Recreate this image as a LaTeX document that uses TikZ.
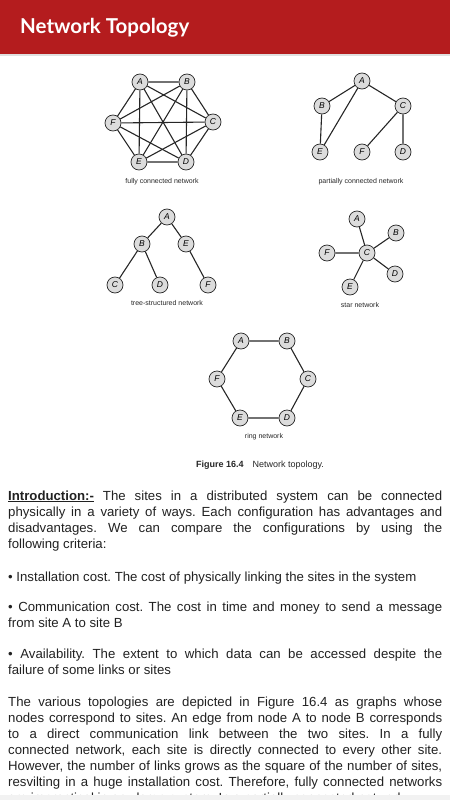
\documentclass[tikz,border=0pt]{standalone}
\usepackage{fontspec}
\setmainfont{Liberation Sans}
\newfontfamily\titlefont{Lato}
\usetikzlibrary{positioning}
\definecolor{barred}{RGB}{180,28,30}
\definecolor{bodytext}{RGB}{33,33,33}
\definecolor{sitefill}{RGB}{220,220,220}
\frenchspacing
\begin{document}
\begin{tikzpicture}[x=1pt, y=-1pt,
    site/.style={circle, draw=black!85, fill=sitefill, line width=0.7pt, minimum size=16pt, inner sep=0pt, font=\fontsize{8.5}{9}\selectfont\itshape},
    link/.style={line width=1.1pt, black!85},
    netlabel/.style={inner sep=0pt, font=\fontsize{7}{8}\selectfont, text=black!85},
    para/.style={anchor=base west, inner sep=0pt, text width=434pt, align=justify, font=\fontsize{13.2}{16}\selectfont, text=bodytext}]
    \useasboundingbox (0,0) rectangle (450,800);
    % title bar
    \fill[barred] (0,0) rectangle (450,54);
    \fill[black!12] (0,54) rectangle (450,56);
    \node[anchor=west, inner sep=0pt, text=white, font=\titlefont\bfseries\fontsize{20.5}{21}\selectfont] (title) at (20,28) {Network Topology};
    % fully connected network
    \node[site] (fA) at (140,82) {A};
    \node[site] (fB) at (187,82) {B};
    \node[site] (fC) at (213,122) {C};
    \node[site] (fD) at (186,162) {D};
    \node[site] (fE) at (139,162) {E};
    \node[site] (fF) at (113,123) {F};
    \draw[link] (fA) -- (fB) (fA) -- (fC) (fA) -- (fD) (fA) -- (fE) (fA) -- (fF);
    \draw[link] (fB) -- (fC) (fB) -- (fD) (fB) -- (fE) (fB) -- (fF);
    \draw[link] (fC) -- (fD) (fC) -- (fE) (fC) -- (fF);
    \draw[link] (fD) -- (fE) (fD) -- (fF);
    \draw[link] (fE) -- (fF);
    \node[netlabel] (fcap) at (162,182) {fully connected network};
    % partially connected network
    \node[site] (pA) at (362,81) {A};
    \node[site] (pB) at (322,106) {B};
    \node[site] (pC) at (403,106) {C};
    \node[site] (pD) at (403,152) {D};
    \node[site] (pE) at (320,152) {E};
    \node[site] (pF) at (362,152) {F};
    \draw[link] (pA) -- (pB) (pA) -- (pE) (pB) -- (pE);
    \draw[link] (pA) -- (pC) (pC) -- (pF) (pC) -- (pD);
    \node[netlabel] (pcap) at (361,182) {partially connected network};
    % tree-structured network
    \node[site] (tA) at (167,217) {A};
    \node[site] (tB) at (142,244) {B};
    \node[site] (tE) at (186,244) {E};
    \node[site] (tC) at (115,285) {C};
    \node[site] (tD) at (160,285) {D};
    \node[site] (tF) at (208,285) {F};
    \draw[link] (tA) -- (tB) (tA) -- (tE) (tB) -- (tC) (tB) -- (tD) (tE) -- (tF);
    \node[netlabel] (tcap) at (167,303) {tree-structured network};
    % star network
    \node[site] (sC) at (367,253) {C};
    \node[site] (sA) at (357,219) {A};
    \node[site] (sB) at (396,233) {B};
    \node[site] (sD) at (395,274) {D};
    \node[site] (sE) at (350,287) {E};
    \node[site] (sF) at (327,253) {F};
    \draw[link] (sC) -- (sA) (sC) -- (sB) (sC) -- (sD) (sC) -- (sE) (sC) -- (sF);
    \node[netlabel] (scap) at (360,305) {star network};
    % ring network
    \node[site] (rA) at (241,341) {A};
    \node[site] (rB) at (287,341) {B};
    \node[site] (rC) at (308,379) {C};
    \node[site] (rD) at (287,418) {D};
    \node[site] (rE) at (240,418) {E};
    \node[site] (rF) at (217,379) {F};
    \draw[link] (rA) -- (rB) -- (rC) -- (rD) -- (rE) -- (rF) -- (rA);
    \node[netlabel] (rcap) at (264,437) {ring network};
    % figure caption
    \node[inner sep=0pt, font=\fontsize{9}{10}\selectfont, text=black!85] (figcap) at (260,465) {\textbf{Figure 16.4}\quad Network topology.};
    % text
    \node[para] (intro) at (8,500) {\underline{\textbf{Introduction:-}} The sites in a distributed system can be connected\linebreak
      physically in a variety of ways. Each configuration has advantages and\linebreak
      disadvantages. We can compare the configurations by using the\linebreak
      following criteria:};
    \node[para] (install) at (8,581) {• Installation cost. The cost of physically linking the sites in the system};
    \node[para] (comm) at (8,611) {• Communication cost. The cost in time and money to send a message\linebreak
      from site A to site B};
    \node[para] (avail) at (8,658) {• Availability. The extent to which data can be accessed despite the\linebreak
      failure of some links or sites};
    \node[para] (topo) at (8,706) {\parfillskip=0pt The various topologies are depicted in Figure 16.4 as graphs whose\linebreak
      nodes correspond to sites. An edge from node A to node B corresponds\linebreak
      to a direct communication link between the two sites. In a fully\linebreak
      connected network, each site is directly connected to every other site.\linebreak
      However, the number of links grows as the square of the number of sites,\linebreak
      resvilting in a huge installation cost. Therefore, fully connected networks\linebreak
      are impractical in any large system. In a partially connected network};
    % bottom bar
    \fill[black!5] (0,795) rectangle (450,800);
\end{tikzpicture}
\end{document}
